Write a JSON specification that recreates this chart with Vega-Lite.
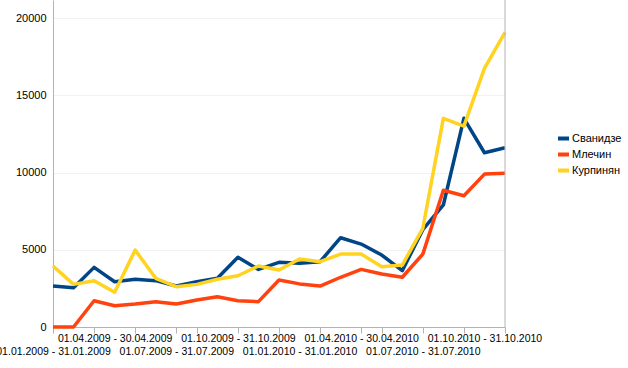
{
  "$schema": "https://vega.github.io/schema/vega-lite/v6.json",
  "width": 452,
  "height": 327,
  "autosize": {"type": "none"},
  "padding": {"left": 53, "top": 0, "right": 123, "bottom": 41},
  "background": "white",
  "config": {"font": "Liberation Sans", "view": {"stroke": null}},
  "data": {
    "values": [
      {"period": "01.01.2009 - 31.01.2009", "Сванидзе": 2650, "Млечин": 0, "Курпинян": 3950},
      {"period": "01.02.2009 - 28.02.2009", "Сванидзе": 2540, "Млечин": 0, "Курпинян": 2760},
      {"period": "01.03.2009 - 31.03.2009", "Сванидзе": 3860, "Млечин": 1700, "Курпинян": 3000},
      {"period": "01.04.2009 - 30.04.2009", "Сванидзе": 2930, "Млечин": 1380, "Курпинян": 2250},
      {"period": "01.05.2009 - 31.05.2009", "Сванидзе": 3090, "Млечин": 1490, "Курпинян": 4980},
      {"period": "01.06.2009 - 30.06.2009", "Сванидзе": 3000, "Млечин": 1640, "Курпинян": 3150},
      {"period": "01.07.2009 - 31.07.2009", "Сванидзе": 2650, "Млечин": 1490, "Курпинян": 2610},
      {"period": "01.08.2009 - 31.08.2009", "Сванидзе": 2930, "Млечин": 1750, "Курпинян": 2760},
      {"period": "01.09.2009 - 30.09.2009", "Сванидзе": 3150, "Млечин": 1960, "Курпинян": 3090},
      {"period": "01.10.2009 - 31.10.2009", "Сванидзе": 4510, "Млечин": 1700, "Курпинян": 3320},
      {"period": "01.11.2009 - 30.11.2009", "Сванидзе": 3730, "Млечин": 1640, "Курпинян": 3950},
      {"period": "01.12.2009 - 31.12.2009", "Сванидзе": 4190, "Млечин": 3040, "Курпинян": 3690},
      {"period": "01.01.2010 - 31.01.2010", "Сванидзе": 4120, "Млечин": 2790, "Курпинян": 4400},
      {"period": "01.02.2010 - 28.02.2010", "Сванидзе": 4230, "Млечин": 2650, "Курпинян": 4230},
      {"period": "01.03.2010 - 31.03.2010", "Сванидзе": 5780, "Млечин": 3220, "Курпинян": 4720},
      {"period": "01.04.2010 - 30.04.2010", "Сванидзе": 5370, "Млечин": 3730, "Курпинян": 4720},
      {"period": "01.05.2010 - 31.05.2010", "Сванидзе": 4660, "Млечин": 3430, "Курпинян": 3900},
      {"period": "01.06.2010 - 30.06.2010", "Сванидзе": 3650, "Млечин": 3220, "Курпинян": 4010},
      {"period": "01.07.2010 - 31.07.2010", "Сванидзе": 6300, "Млечин": 4720, "Курпинян": 6390},
      {"period": "01.08.2010 - 31.08.2010", "Сванидзе": 7900, "Млечин": 8850, "Курпинян": 13510},
      {"period": "01.09.2010 - 30.09.2010", "Сванидзе": 13510, "Млечин": 8500, "Курпинян": 13010},
      {"period": "01.10.2010 - 31.10.2010", "Сванидзе": 11280, "Млечин": 9900, "Курпинян": 16740},
      {"period": "01.11.2010 - 30.11.2010", "Сванидзе": 11600, "Млечин": 9950, "Курпинян": 19070}
    ]
  },
  "transform": [{"fold": ["Сванидзе", "Млечин", "Курпинян"], "as": ["name", "value"]}],
  "layer": [
    {
      "mark": {"type": "line", "strokeWidth": 3.5, "strokeJoin": "round"},
      "encoding": {
        "x": {
          "field": "period", "type": "ordinal", "sort": null,
          "scale": {"type": "point", "padding": 0},
          "axis": {
            "title": null, "orient": "bottom", "labelAngle": 0, "labelFontSize": 10.5, "labelColor": "#000000",
            "domainColor": "#b3b3b3", "ticks": false, "labelPadding": 6, "labelLineHeight": 13,
            "labelBaseline": "top", "labelOverlap": false, "labelBound": false,
            "values": ["01.01.2009 - 31.01.2009", "01.04.2009 - 30.04.2009", "01.07.2009 - 31.07.2009", "01.10.2009 - 31.10.2009", "01.01.2010 - 31.01.2010", "01.04.2010 - 30.04.2010", "01.07.2010 - 31.07.2010", "01.10.2010 - 31.10.2010"],
            "labelExpr": "(indexof(datum.value, '01.01.') === 0 || indexof(datum.value, '01.07.') === 0) ? ['', datum.value] : datum.value"
          }
        },
        "y": {
          "field": "value", "type": "quantitative",
          "scale": {"domain": [0, 21170], "nice": false},
          "axis": {
            "title": null, "values": [0, 5000, 10000, 15000, 20000], "format": "d", "labelFontSize": 11, "labelColor": "#000000",
            "domainColor": "#b3b3b3", "ticks": false, "labelPadding": 7, "gridColor": "#f2f2f2"
          }
        },
        "color": {
          "field": "name", "type": "nominal",
          "scale": {"domain": ["Сванидзе", "Млечин", "Курпинян"], "range": ["#004586", "#ff420e", "#ffd320"]},
          "legend": {
            "title": null, "orient": "none", "legendX": 503, "legendY": 131,
            "symbolType": "stroke", "symbolStrokeWidth": 4, "symbolSize": 121,
            "labelFontSize": 11, "labelFontWeight": "normal", "labelColor": "#000000", "rowPadding": -1, "labelOffset": 1
          }
        }
      }
    },
    {
      "mark": {"type": "point", "opacity": 0},
      "encoding": {
        "x": {
          "field": "period", "type": "ordinal", "sort": null,
          "axis": {
            "title": null, "orient": "bottom", "labels": false, "domain": false, "grid": false,
            "ticks": true, "tickColor": "#b3b3b3", "tickSize": 6,
            "values": ["01.01.2009 - 31.01.2009", "01.03.2009 - 31.03.2009", "01.05.2009 - 31.05.2009", "01.07.2009 - 31.07.2009", "01.08.2009 - 31.08.2009", "01.10.2009 - 31.10.2009", "01.12.2009 - 31.12.2009", "01.02.2010 - 28.02.2010", "01.04.2010 - 30.04.2010", "01.05.2010 - 31.05.2010", "01.07.2010 - 31.07.2010", "01.09.2010 - 30.09.2010", "01.11.2010 - 30.11.2010"]
          }
        }
      }
    },
    {
      "data": {"values": [{}]},
      "mark": {"type": "rule", "color": "#b3b3b3", "strokeWidth": 1},
      "encoding": {"x": {"datum": "01.11.2010 - 30.11.2010", "type": "ordinal", "axis": null}}
    }
  ],
  "resolve": {"axis": {"x": "independent"}}
}
